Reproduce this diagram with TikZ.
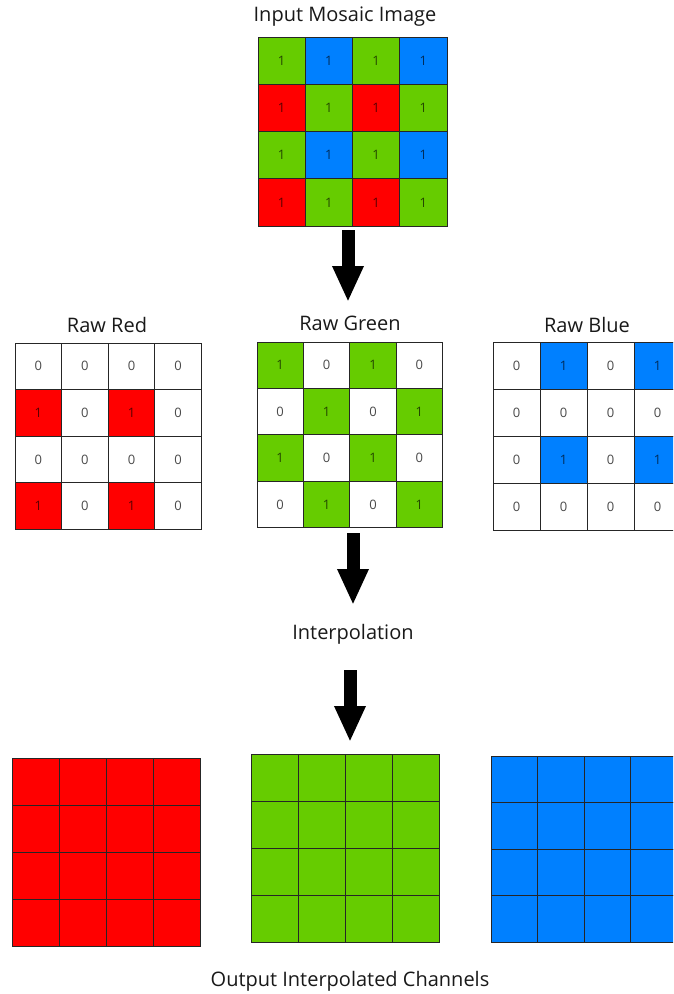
\documentclass[tikz,border=0pt]{standalone}
\usepackage{fontspec}
\setmainfont{Open Sans}
\usetikzlibrary{arrows.meta}
\definecolor{mr}{HTML}{FF0000}
\definecolor{mg}{HTML}{66CC00}
\definecolor{mb}{HTML}{0080FF}
\definecolor{w}{HTML}{FFFFFF}
\definecolor{numgray}{HTML}{4A4A4A}
\tikzset{
  cell/.style={draw=black!85, line width=1pt, minimum size=#1, inner sep=0pt, outer sep=0pt, font=\fontsize{13}{15}\selectfont},
  one/.style={text=black, text opacity=0.65},
  zero/.style={text=numgray},
  tx1/.style={one},
  tx0/.style={zero},
  title/.style={font=\fontsize{20}{24}\selectfont, text=black!90, inner sep=0pt},
  bigarrow/.style={line width=13pt, -{Triangle[width=29pt,length=36pt]}, black},
}
\begin{document}
\begin{tikzpicture}[x=1pt,y=-1pt]
\useasboundingbox (0,0) rectangle (673,994);
\clip (0,0) rectangle (673,994);

% Input mosaic
\node[title] (tin) at (345,17) {Input Mosaic Image};
\foreach \r/\row in {1/{mg,mb,mg,mb},2/{mr,mg,mr,mg},3/{mg,mb,mg,mb},4/{mr,mg,mr,mg}}{
  \foreach \fc [count=\c] in \row {
    \node[cell=47.25pt, fill=\fc, one] (top-\r-\c) at ({258+(\c-0.5)*47.25},{37+(\r-0.5)*47.25}) {1};
  }
}

% Raw Red
\node[title] (tred) at (107,325) {Raw Red};
\foreach \r/\row in {1/{w/0,w/0,w/0,w/0},2/{mr/1,w/0,mr/1,w/0},3/{w/0,w/0,w/0,w/0},4/{mr/1,w/0,mr/1,w/0}}{
  \foreach \fc/\tx [count=\c] in \row {
    \node[cell=46.6pt, fill=\fc, tx\tx] (rr-\r-\c) at ({15+(\c-0.5)*46.6},{343+(\r-0.5)*46.6}) {\tx};
  }
}

% Raw Green
\node[title] (tgreen) at (350,323) {Raw Green};
\foreach \r/\row in {1/{mg/1,w/0,mg/1,w/0},2/{w/0,mg/1,w/0,mg/1},3/{mg/1,w/0,mg/1,w/0},4/{w/0,mg/1,w/0,mg/1}}{
  \foreach \fc/\tx [count=\c] in \row {
    \node[cell=46.4pt, fill=\fc, tx\tx] (rg-\r-\c) at ({257+(\c-0.5)*46.4},{342+(\r-0.5)*46.4}) {\tx};
  }
}

% Raw Blue
\node[title] (tblue) at (587,325) {Raw Blue};
\foreach \r/\row in {1/{w/0,mb/1,w/0,mb/1},2/{w/0,w/0,w/0,w/0},3/{w/0,mb/1,w/0,mb/1},4/{w/0,w/0,w/0,w/0}}{
  \foreach \fc/\tx [count=\c] in \row {
    \node[cell=47pt, fill=\fc, tx\tx] (rb-\r-\c) at ({493+(\c-0.5)*47},{342+(\r-0.5)*47}) {\tx};
  }
}

% Interpolation label
\node[title] (tinterp) at (353,634) {Interpolation};

% Output grids
\foreach \r in {1,...,4}{
  \foreach \c in {1,...,4}{
    \node[cell=47pt, fill=mr] (or-\r-\c) at ({12+(\c-0.5)*47},{758+(\r-0.5)*47}) {};
    \node[cell=47pt, fill=mg] (og-\r-\c) at ({251+(\c-0.5)*47},{754+(\r-0.5)*47}) {};
    \node[cell=46.6pt, fill=mb] (ob-\r-\c) at ({491+(\c-0.5)*46.6},{756+(\r-0.5)*46.6}) {};
  }
}
\node[title] (tout) at (350,981) {Output Interpolated Channels};

% Arrows
\coordinate (a1s) at (348,230);
\coordinate (a1e) at (348,302);
\coordinate (a2s) at (353,533);
\coordinate (a2e) at (353,605);
\coordinate (a3s) at (350,670);
\coordinate (a3e) at (350,742);
\draw[bigarrow] (a1s) -- (a1e);
\draw[bigarrow] (a2s) -- (a2e);
\draw[bigarrow] (a3s) -- (a3e);
\end{tikzpicture}
\end{document}
